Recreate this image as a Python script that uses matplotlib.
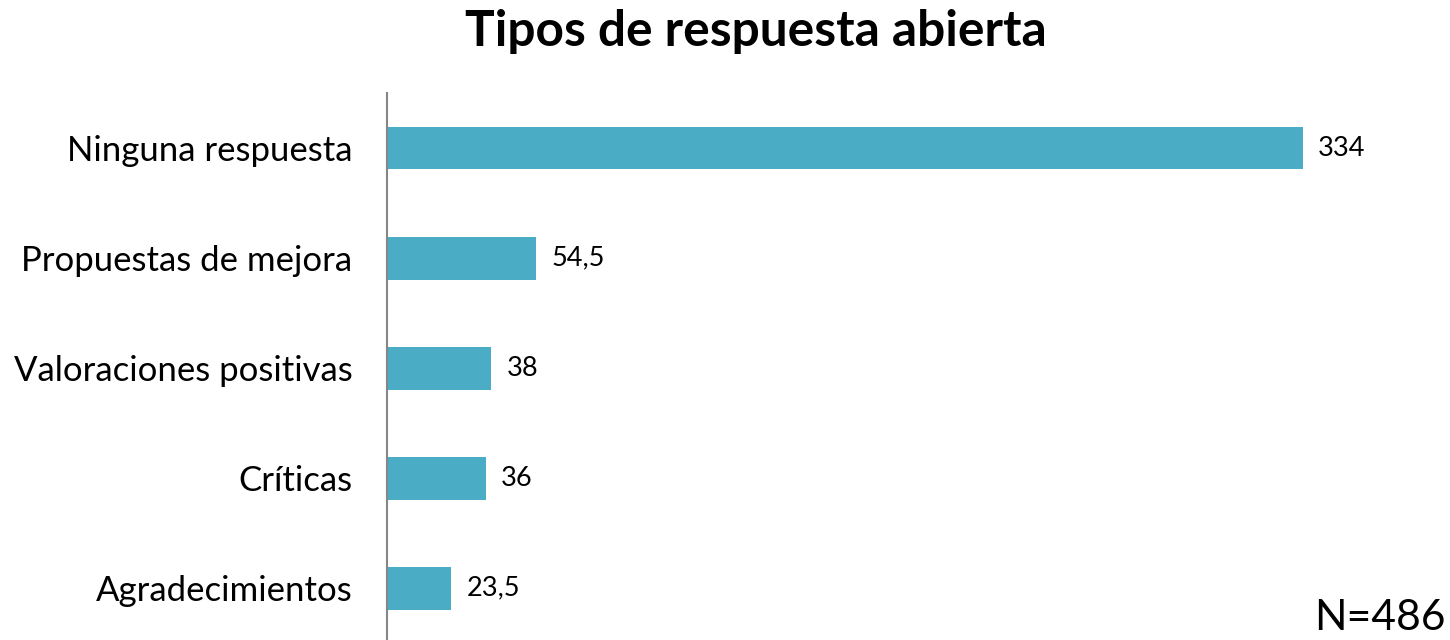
import matplotlib
matplotlib.use('Agg')
import matplotlib.pyplot as plt

plt.rcParams['font.family'] = ['Lato', 'DejaVu Sans']

categories = ['Ninguna respuesta', 'Propuestas de mejora', 'Valoraciones positivas',
              'Críticas', 'Agradecimientos']
values = [334, 54.5, 38, 36, 23.5]
value_labels = ['334', '54,5', '38', '36', '23,5']

fig = plt.figure(figsize=(14.5, 6.4), dpi=100)
ax = fig.add_axes([387 / 1450, 0.0, (1440 - 387) / 1450, (640 - 93) / 640])

ypos = list(range(len(categories)))
ax.barh(ypos, values, height=0.39, color='#4BACC6')
ax.set_xlim(0, 384)
ax.set_ylim(4.47, -0.5)

ax.set_yticks(ypos)
ax.set_yticklabels(categories, fontsize=25)
ax.tick_params(axis='y', length=0, pad=25)
ax.set_xticks([])
for s in ['top', 'right', 'bottom']:
    ax.spines[s].set_visible(False)
ax.spines['left'].set_color('#868686')
ax.spines['left'].set_linewidth(1.5)

for y, v, lab in zip(ypos, values, value_labels):
    ax.text(v + 5.5, y, lab, va='center', ha='left', fontsize=19.5)

fig.text(756 / 1450, 1 - 32 / 640, 'Tipos de respuesta abierta', ha='center', va='center',
         fontsize=35.7, fontweight='bold')
fig.text(1446 / 1450, 3 / 640, 'N=486', ha='right', va='bottom', fontsize=30.7)

fig.savefig('out.png', dpi=100)
